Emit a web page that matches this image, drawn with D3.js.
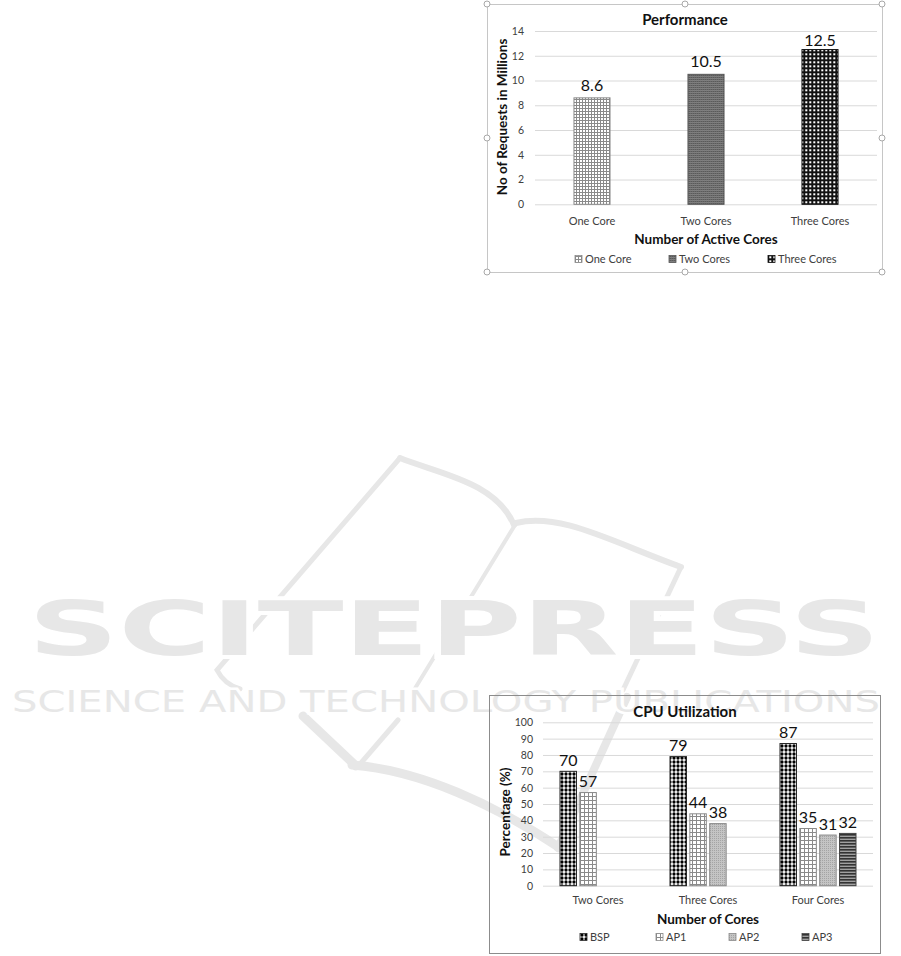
<!DOCTYPE html>
<html>
<head>
<meta charset="utf-8">
<script src="https://cdn.jsdelivr.net/npm/d3@7"></script>
<style>
  html, body { margin: 0; padding: 0; background: #fff; }
  svg { display: block; }
  text { font-family: Lato, "Open Sans", sans-serif; }
</style>
</head>
<body>
<svg id="chart" width="901" height="956"></svg>
<script>
// ---------------- DATA ----------------
const perfCategories = ["One Core", "Two Cores", "Three Cores"];
const perfValues = [8.6, 10.5, 12.5];
const perfTicks = [0, 2, 4, 6, 8, 10, 12, 14];

const cpuCategories = ["Two Cores", "Three Cores", "Four Cores"];
const cpuSeries = ["BSP", "AP1", "AP2", "AP3"];
const cpuBSP = [70, 79, 87];
const cpuAP1 = [57, 44, 35];
const cpuAP2 = [null, 38, 31];
const cpuAP3 = [null, null, 32];
const cpuTicks = [0, 10, 20, 30, 40, 50, 60, 70, 80, 90, 100];

// ---------------- SETUP ----------------
const svg = d3.select("#chart");
const defs = svg.append("defs");

function pat(id, size, build) {
  const p = defs.append("pattern").attr("id", id)
    .attr("patternUnits", "userSpaceOnUse")
    .attr("width", size).attr("height", size);
  build(p);
}
// One Core: fine grey grid
pat("pOne", 3, p => {
  p.append("rect").attr("width", 3).attr("height", 3).attr("fill", "#fff");
  p.append("rect").attr("width", 3).attr("height", 1).attr("fill", "#8a8a8a");
  p.append("rect").attr("width", 1).attr("height", 3).attr("fill", "#8a8a8a");
});
// Two Cores: dark dense grid
pat("pTwo", 2, p => {
  p.append("rect").attr("width", 2).attr("height", 2).attr("fill", "#5a5a5a");
  p.append("rect").attr("width", 2).attr("height", 0.7).attr("fill", "#909090");
  p.append("rect").attr("width", 0.5).attr("height", 2).attr("fill", "#7a7a7a");
});
// Three Cores: black grid with white squares
pat("pThree", 4, p => {
  p.append("rect").attr("width", 4).attr("height", 4).attr("fill", "#111");
  p.append("rect").attr("x", 1.3).attr("y", 1.3).attr("width", 2).attr("height", 2).attr("fill", "#fff");
});
// BSP: black dots
pat("pBSP", 4, p => {
  p.append("rect").attr("width", 4).attr("height", 4).attr("fill", "#fff");
  p.append("circle").attr("cx", 2).attr("cy", 2).attr("r", 1.65).attr("fill", "#000");
});
// AP1: grey grid
pat("pAP1", 4, p => {
  p.append("rect").attr("width", 4).attr("height", 4).attr("fill", "#fff");
  p.append("rect").attr("width", 4).attr("height", 1).attr("fill", "#8a8a8a");
  p.append("rect").attr("width", 1).attr("height", 4).attr("fill", "#8a8a8a");
});
// AP2: light grey fine texture
pat("pAP2", 2, p => {
  p.append("rect").attr("width", 2).attr("height", 2).attr("fill", "#c4c4c4");
  p.append("rect").attr("width", 1).attr("height", 1).attr("fill", "#a4a4a4");
});
// AP3: horizontal dark stripes
pat("pAP3", 3, p => {
  p.append("rect").attr("width", 3).attr("height", 3).attr("fill", "#a0a0a0");
  p.append("rect").attr("width", 3).attr("height", 1.6).attr("fill", "#333");
});

const perfFills = ["url(#pOne)", "url(#pTwo)", "url(#pThree)"];
const perfStrokes = ["#8a8a8a", "#555", "#111"];
const cpuFills = ["url(#pBSP)", "url(#pAP1)", "url(#pAP2)", "url(#pAP3)"];
const cpuStrokes = ["#222", "#8a8a8a", "#8a8a8a", "#444"];

// ---------------- WATERMARK ----------------
const wm = svg.append("g").attr("fill", "none").attr("stroke", "#e7e7e7").attr("stroke-linecap", "round");
wm.append("path").attr("d", "M400,458 L217,670 Q224,684 240,689").attr("stroke-width", 5);
wm.append("path").attr("d", "M400,458 C440,474 496,482 514,525").attr("stroke-width", 6);
wm.append("path").attr("d", "M516,523 C560,512 612,542 681,567").attr("stroke-width", 6);
wm.append("path").attr("d", "M515,525 L414,690").attr("stroke-width", 4);
wm.append("path").attr("d", "M681,567 L623,690").attr("stroke-width", 5);
wm.append("path").attr("d", "M303,716 L356,766").attr("stroke-width", 9);
wm.append("path").attr("d", "M398,720 L361,763").attr("stroke-width", 5);
wm.append("path").attr("d", "M352,765 C420,770 495,805 560,848").attr("stroke-width", 9);
wm.append("path").attr("d", "M558,848 L627,697").attr("stroke-width", 8);

svg.append("text").attr("x", 28).attr("y", 655)
  .attr("textLength", 852).attr("lengthAdjust", "spacingAndGlyphs")
  .style("font-family", "'DejaVu Sans'").style("font-weight", "bold").style("font-size", "75px")
  .attr("fill", "#e7e7e7").attr("stroke", "#fff").attr("stroke-width", 8)
  .style("paint-order", "stroke")
  .text("SCITEPRESS");
svg.append("text").attr("x", 12).attr("y", 712)
  .attr("textLength", 868).attr("lengthAdjust", "spacingAndGlyphs")
  .style("font-family", "'DejaVu Sans'").style("font-size", "30px")
  .attr("fill", "#e7e7e7").attr("stroke", "#fff").attr("stroke-width", 5)
  .style("paint-order", "stroke")
  .text("SCIENCE AND TECHNOLOGY PUBLICATIONS");

// ---------------- PERFORMANCE CHART ----------------
(function () {
  const left = 535, right = 877, top = 31, bottom = 204.3;
  const g = svg.append("g");
  g.append("rect").attr("x", 487.5).attr("y", 4.5).attr("width", 395).attr("height", 268)
    .attr("fill", "none").attr("stroke", "#c6c6c6").attr("stroke-width", 1);

  const x = d3.scaleBand().domain(perfCategories).range([left, right])
    .paddingInner(0.675).paddingOuter(0.3375);
  const y = d3.scaleLinear().domain([0, 14]).range([bottom, top]);

  const ya = g.append("g").attr("transform", `translate(${left},0)`)
    .call(d3.axisLeft(y).tickValues(perfTicks).tickSize(-(right - left)).tickPadding(11));
  ya.select(".domain").remove();
  ya.selectAll("line").attr("stroke", "#d9d9d9");
  ya.selectAll("text").attr("fill", "#404040").style("font-size", "10.5px").style("font-family", "Lato");

  const xa = g.append("g").attr("transform", `translate(0,${bottom})`)
    .call(d3.axisBottom(x).tickSize(0).tickPadding(13));
  xa.select(".domain").remove();
  xa.selectAll("text").attr("fill", "#404040").style("font-size", "11px").style("font-family", "Lato");

  g.selectAll("rect.bar").data(perfValues).join("rect").attr("class", "bar")
    .attr("x", (d, i) => x(perfCategories[i]) + 0.5)
    .attr("y", d => y(d))
    .attr("width", x.bandwidth() - 1)
    .attr("height", d => y(0) - y(d))
    .attr("fill", (d, i) => perfFills[i])
    .attr("stroke", (d, i) => perfStrokes[i]).attr("stroke-width", 1);

  g.selectAll("text.lbl").data(perfValues).join("text").attr("class", "lbl")
    .attr("x", (d, i) => x(perfCategories[i]) + x.bandwidth() / 2)
    .attr("y", d => Math.max(y(d) - 7, 46))
    .attr("text-anchor", "middle").attr("fill", "#111")
    .style("font-size", "16px")
    .text(d => d.toFixed(1));

  g.append("text").attr("x", 685).attr("y", 25).attr("text-anchor", "middle")
    .style("font-size", "15px").style("font-weight", "bold").attr("fill", "#111")
    .text("Performance");
  g.append("text").attr("transform", "translate(507,117) rotate(-90)").attr("text-anchor", "middle")
    .style("font-size", "13.5px").style("font-weight", "bold").attr("fill", "#111")
    .text("No of Requests in Millions");
  g.append("text").attr("x", (left + right) / 2).attr("y", 244).attr("text-anchor", "middle")
    .style("font-size", "13.5px").style("font-weight", "bold").attr("fill", "#111")
    .text("Number of Active Cores");

  const legX = [575, 669, 768];
  const lg = g.selectAll("g.leg").data(perfCategories).join("g").attr("class", "leg")
    .attr("transform", (d, i) => `translate(${legX[i]},259)`);
  lg.append("rect").attr("x", 0).attr("y", -3.5).attr("width", 7).attr("height", 7)
    .attr("fill", (d, i) => perfFills[i]).attr("stroke", (d, i) => perfStrokes[i]).attr("stroke-width", 0.8);
  lg.append("text").attr("x", 10).attr("y", 4).style("font-size", "11px").attr("fill", "#404040").text(d => d);

  const handles = [[487, 4], [685, 4], [882, 4], [487, 138], [882, 138], [487, 272], [685, 272], [882, 272]];
  g.selectAll("circle.h").data(handles).join("circle").attr("class", "h")
    .attr("cx", d => d[0]).attr("cy", d => d[1]).attr("r", 3)
    .attr("fill", "#fff").attr("stroke", "#a8a8a8").attr("stroke-width", 1);
})();

// ---------------- CPU UTILIZATION CHART ----------------
(function () {
  const left = 543, right = 873, top = 722.3, bottom = 885.7;
  const g = svg.append("g");
  g.append("rect").attr("x", 489.5).attr("y", 695.5).attr("width", 391).attr("height", 258)
    .attr("fill", "none").attr("stroke", "#8c8c8c").attr("stroke-width", 1);

  const x0 = d3.scaleBand().domain(cpuCategories).range([left, right]).paddingInner(0.3).paddingOuter(0.15);
  const x1 = d3.scaleBand().domain(cpuSeries).range([0, x0.bandwidth()]).paddingInner(0.12);
  const y = d3.scaleLinear().domain([0, 100]).range([bottom, top]);

  const ya = g.append("g").attr("transform", `translate(${left},0)`)
    .call(d3.axisLeft(y).tickValues(cpuTicks).tickSize(-(right - left)).tickPadding(10));
  ya.select(".domain").remove();
  ya.selectAll("line").attr("stroke", "#d9d9d9");
  ya.selectAll("text").attr("fill", "#404040").style("font-size", "10.5px").style("font-family", "Lato");

  const xa = g.append("g").attr("transform", `translate(0,${bottom})`)
    .call(d3.axisBottom(x0).tickSize(0).tickPadding(11));
  xa.select(".domain").remove();
  xa.selectAll("text").attr("fill", "#404040").style("font-size", "11px").style("font-family", "Lato");

  const seriesVals = [cpuBSP, cpuAP1, cpuAP2, cpuAP3];
  const flat = [];
  cpuCategories.forEach((c, ci) => cpuSeries.forEach((s, si) => {
    const v = seriesVals[si][ci];
    if (v !== null) flat.push({ c, s, si, v });
  }));

  g.selectAll("rect.bar").data(flat).join("rect").attr("class", "bar")
    .attr("x", d => x0(d.c) + x1(d.s) + 0.5)
    .attr("y", d => y(d.v))
    .attr("width", x1.bandwidth() - 1)
    .attr("height", d => y(0) - y(d.v))
    .attr("fill", d => cpuFills[d.si])
    .attr("stroke", d => cpuStrokes[d.si]).attr("stroke-width", 1);

  g.selectAll("text.lbl").data(flat).join("text").attr("class", "lbl")
    .attr("x", d => x0(d.c) + x1(d.s) + x1.bandwidth() / 2)
    .attr("y", d => y(d.v) - 5.5)
    .attr("text-anchor", "middle").attr("fill", "#111")
    .style("font-size", "16px")
    .text(d => d.v);

  g.append("text").attr("x", 685).attr("y", 717).attr("text-anchor", "middle")
    .style("font-size", "15px").style("font-weight", "bold").attr("fill", "#111")
    .text("CPU Utilization");
  g.append("text").attr("transform", "translate(510,812) rotate(-90)").attr("text-anchor", "middle")
    .style("font-size", "13.5px").style("font-weight", "bold").attr("fill", "#111")
    .text("Percentage (%)");
  g.append("text").attr("x", (left + right) / 2).attr("y", 924).attr("text-anchor", "middle")
    .style("font-size", "13.5px").style("font-weight", "bold").attr("fill", "#111")
    .text("Number of Cores");

  const legX = [580, 656, 729, 802];
  const lg = g.selectAll("g.leg").data(cpuSeries).join("g").attr("class", "leg")
    .attr("transform", (d, i) => `translate(${legX[i]},937)`);
  lg.append("rect").attr("x", 0).attr("y", -3.5).attr("width", 7).attr("height", 7)
    .attr("fill", (d, i) => cpuFills[i]).attr("stroke", (d, i) => cpuStrokes[i]).attr("stroke-width", 0.8);
  lg.append("text").attr("x", 10).attr("y", 4).style("font-size", "11px").attr("fill", "#404040").text(d => d);
})();
</script>
</body>
</html>
